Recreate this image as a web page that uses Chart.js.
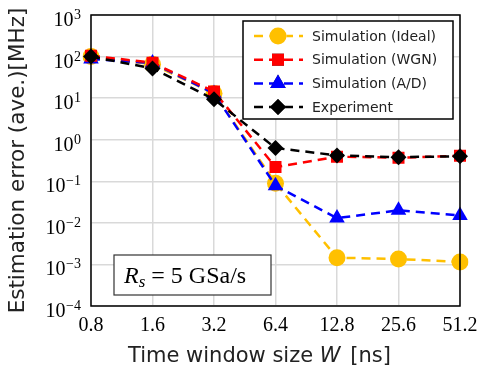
<!DOCTYPE html>
<html>
<head>
<meta charset="utf-8">
<script src="https://cdn.jsdelivr.net/npm/chart.js@4.4.1/dist/chart.umd.min.js"></script>
<style>
  html, body { margin: 0; padding: 0; background: #fff; }
  #wrap { width: 480px; height: 375px; }
</style>
</head>
<body>
<div id="wrap"><canvas id="chart" width="480" height="375"></canvas></div>
<script>
// time window sizes [ns]
const windowSizes = ['0.8', '1.6', '3.2', '6.4', '12.8', '25.6', '51.2']
// estimation error (ave.) [MHz]
const simIdeal = [100, 65, 13, 0.09, 0.00145, 0.00135, 0.00115]
const simWGN = [105, 71, 14.5, 0.22, 0.39, 0.37, 0.41]
const simAD = [88, 70, 13, 0.078, 0.013, 0.02, 0.015]
const experiment = [100, 52, 9.4, 0.63, 0.42, 0.38, 0.4]
const yExponents = [3, 2, 1, 0, -1, -2, -3, -4]

const serif = '"Liberation Serif", "DejaVu Serif", serif'
const sans = '"DejaVu Sans", "Noto Sans", sans-serif'

// drawn top to bottom: experiment on top, ideal at the bottom
const series = [
  { label: 'Experiment', data: experiment, color: '#000000', pointStyle: 'rectRot', radius: 8 },
  { label: 'Simulation (WGN)', data: simWGN, color: '#FF0000', pointStyle: 'rect', radius: 8.5 },
  { label: 'Simulation (A/D)', data: simAD, color: '#0000FF', pointStyle: 'triangle', radius: 9 },
  { label: 'Simulation (Ideal)', data: simIdeal, color: '#FFC000', pointStyle: 'circle', radius: 8.5 },
]
const legendOrder = ['Simulation (Ideal)', 'Simulation (WGN)', 'Simulation (A/D)', 'Experiment']

const overlay = {
  id: 'overlay',
  afterDraw(chart) {
    const ctx = chart.ctx
    const area = chart.chartArea
    const yScale = chart.scales.y

    // frame
    ctx.save()
    ctx.strokeStyle = '#000'
    ctx.lineWidth = 1.5
    ctx.strokeRect(area.left, area.top, area.right - area.left, area.bottom - area.top)

    // y tick labels with superscripts
    ctx.fillStyle = '#000'
    ctx.textBaseline = 'alphabetic'
    yExponents.forEach((e) => {
      const py = yScale.getPixelForValue(Math.pow(10, e))
      const exp = e < 0 ? '\u2212' + Math.abs(e) : String(e)
      ctx.font = '14px ' + serif
      const ew = ctx.measureText(exp).width
      const right = 81
      ctx.textAlign = 'left'
      ctx.fillText(exp, right - ew, py + 4)
      ctx.font = '20px ' + serif
      const bw = ctx.measureText('10').width
      ctx.fillText('10', right - ew - bw - 0.5, py + 11)
    })

    // legend box
    const lx = 243, ly = 21, lw = 210, lh = 98
    ctx.fillStyle = '#fff'
    ctx.fillRect(lx, ly, lw, lh)
    ctx.strokeStyle = '#000'
    ctx.lineWidth = 1.5
    ctx.strokeRect(lx, ly, lw, lh)
    legendOrder.forEach((name, i) => {
      const idx = chart.data.datasets.findIndex((d) => d.label === name)
      const ds = chart.data.datasets[idx]
      const cy = 36 + i * 23.7
      ctx.strokeStyle = ds.borderColor
      ctx.lineWidth = 2.5
      ctx.setLineDash([9, 6])
      ctx.beginPath()
      ctx.moveTo(254, cy)
      ctx.lineTo(303, cy)
      ctx.stroke()
      ctx.setLineDash([])
      Chart.helpers.drawPoint(ctx, {
        pointStyle: ds.pointStyle,
        radius: ds.pointRadius,
        rotation: 0,
        borderWidth: 0,
      }, 278, cy)
      ctx.fillStyle = ds.backgroundColor
      ctx.fill()
      ctx.fillStyle = '#222'
      ctx.font = '14px ' + sans
      ctx.textAlign = 'left'
      ctx.textBaseline = 'middle'
      ctx.fillText(name, 312, cy + 1)
    })

    // sampling rate box
    const bx = 114, by = 255, bw2 = 157, bh = 40
    ctx.fillStyle = '#fff'
    ctx.fillRect(bx, by, bw2, bh)
    ctx.strokeStyle = '#333'
    ctx.lineWidth = 1.2
    ctx.strokeRect(bx, by, bw2, bh)
    ctx.fillStyle = '#000'
    ctx.textBaseline = 'alphabetic'
    ctx.textAlign = 'left'
    let tx = 124
    const base = 283
    ctx.font = 'italic 24px ' + serif
    ctx.fillText('R', tx, base)
    tx += ctx.measureText('R').width
    ctx.font = 'italic 17px ' + serif
    ctx.fillText('s', tx, base + 4)
    tx += ctx.measureText('s').width
    ctx.font = '24px ' + serif
    ctx.fillText(' = 5 GSa/s', tx, base)

    // x axis title with italic W
    const fx = '21px ' + sans, fxi = 'italic 21px ' + sans
    ctx.fillStyle = '#222'
    const p1 = 'Time window size ', p2 = 'W', p3 = ' [ns]'
    ctx.font = fx
    const w1 = ctx.measureText(p1).width
    ctx.font = fxi
    const w2 = ctx.measureText(p2).width
    const sx = 128
    ctx.textBaseline = 'middle'
    ctx.font = fx
    ctx.fillText(p1, sx, 357)
    ctx.font = fxi
    ctx.fillText(p2, sx + w1, 357)
    ctx.font = fx
    ctx.fillText(p3, sx + w1 + w2 + 3, 357)
    ctx.restore()
  },
}

new Chart(document.getElementById('chart'), {
  type: 'line',
  data: {
    labels: windowSizes,
    datasets: series.map((s) => ({
      label: s.label,
      data: s.data,
      borderColor: s.color,
      backgroundColor: s.color,
      borderWidth: 2.5,
      borderDash: [9, 6],
      pointStyle: s.pointStyle,
      pointRadius: s.radius,
      pointBorderWidth: 0,
      pointBackgroundColor: s.color,
      tension: 0,
    })),
  },
  options: {
    responsive: false,
    animation: false,
    layout: { padding: { left: 6, right: 20, top: 15, bottom: 0 } },
    plugins: {
      legend: { display: false },
      tooltip: { enabled: false },
    },
    scales: {
      x: {
        grid: { color: '#d9d9d9', lineWidth: 1.5, drawTicks: false },
        border: { display: false },
        ticks: {
          color: '#000',
          font: { family: serif, size: 20 },
          padding: 8,
          maxRotation: 0,
          autoSkip: false,
        },
        afterFit(scale) {
          scale.height = 69
          scale.paddingLeft = 0
          scale.paddingRight = 0
        },
      },
      y: {
        type: 'logarithmic',
        min: 1e-4,
        max: 1e3,
        grid: { color: '#d9d9d9', lineWidth: 1.5, drawTicks: false },
        border: { display: false },
        afterBuildTicks(scale) {
          scale.ticks = yExponents.map((e) => ({ value: Math.pow(10, e), major: true }))
        },
        ticks: { display: false },
        title: {
          display: true,
          text: 'Estimation error (ave.)[MHz]',
          color: '#222',
          font: { family: sans, size: 21.5 },
          padding: { top: 0, bottom: 0 },
        },
        afterFit(scale) {
          scale.width = 85
          scale.paddingTop = 0
          scale.paddingBottom = 0
        },
      },
    },
  },
  plugins: [overlay],
})
</script>
</body>
</html>
